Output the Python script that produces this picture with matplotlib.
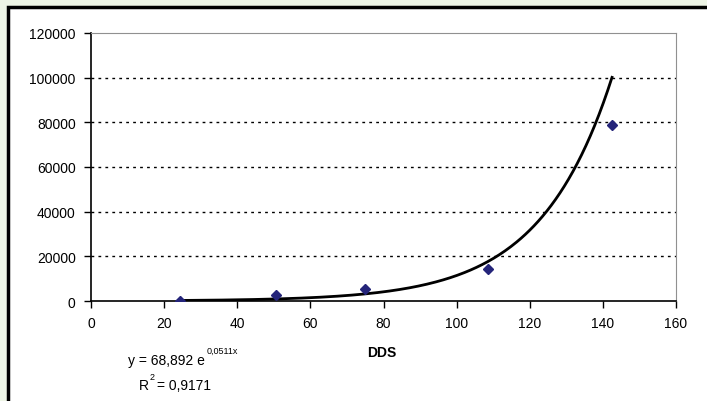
import numpy as np
import matplotlib.pyplot as plt
from matplotlib.patches import Rectangle

plt.rcParams['font.family'] = ['Liberation Sans', 'DejaVu Sans']

# data points (DDS vs value)
dds = [24.3, 50.5, 75.0, 108.7, 142.5]
values = [150, 2600, 5300, 14200, 79000]

# exponential trendline y = a * exp(b x)
fit_a = 68.892
fit_b = 0.0511

xticks = [0, 20, 40, 60, 80, 100, 120, 140, 160]
yticks = [0, 20000, 40000, 60000, 80000, 100000, 120000]

fig = plt.figure(figsize=(7.07, 4.02), dpi=100)
fig.patch.set_facecolor('#EEF5E6')

# white chart frame with black border
frame = Rectangle((8 / 707, -0.05), 1.05, 1 - 8 / 402 + 0.05, transform=fig.transFigure,
                  facecolor='white', edgecolor='black', linewidth=2.5, zorder=-10)
fig.patches.append(frame)

ax = fig.add_axes([91 / 707, 1 - 302 / 402, (676 - 91) / 707, (302 - 34) / 402])
ax.set_facecolor('white')

xs = np.linspace(min(dds), max(dds), 300)
ax.plot(xs, fit_a * np.exp(fit_b * xs), color='black', linewidth=2, zorder=3)
ax.plot(dds, values, linestyle='none', marker='D', markersize=5.5,
        color='#24247A', zorder=4)

ax.set_xlim(0, 160)
ax.set_ylim(0, 120000)
ax.set_xticks(xticks)
ax.set_yticks(yticks)
ax.set_xticklabels([str(t) for t in xticks])
ax.set_yticklabels([str(t) for t in yticks])
ax.tick_params(direction='out', length=5, width=1, labelsize=10, pad=6)

for y in yticks[1:-1]:
    ax.axhline(y, color='black', linestyle=(0, (2, 3)), linewidth=1, zorder=1)

ax.spines['left'].set_color('black')
ax.spines['bottom'].set_color('black')
ax.spines['left'].set_linewidth(1.2)
ax.spines['bottom'].set_linewidth(1.2)
ax.spines['right'].set_color('#909090')
ax.spines['top'].set_color('#909090')
ax.spines['top'].set_linestyle((0, (3, 1)))

fig.text(382 / 707, 1 - 353 / 402, 'DDS', fontsize=10, fontweight='bold',
         ha='center', va='center')

fig.text(128 / 707, 1 - 361 / 402, 'y = 68,892 e', fontsize=10, ha='left', va='center')
fig.text(207 / 707, 1 - 351 / 402, '0,0511x', fontsize=6.5, ha='left', va='center')
fig.text(139 / 707, 1 - 386 / 402, 'R', fontsize=10, ha='left', va='center')
fig.text(150 / 707, 1 - 378 / 402, '2', fontsize=6.5, ha='left', va='center')
fig.text(157 / 707, 1 - 386 / 402, '= 0,9171', fontsize=10, ha='left', va='center')

fig.savefig('out.png', dpi=100, facecolor=fig.get_facecolor())
